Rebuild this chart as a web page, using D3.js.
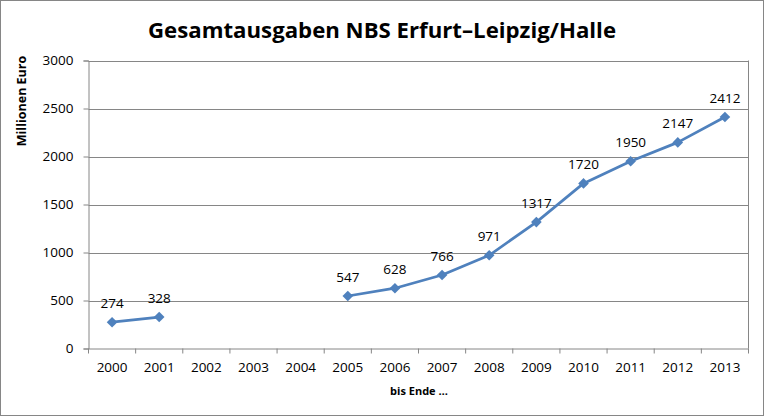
<!DOCTYPE html>
<html><head><meta charset="utf-8">
<script src="https://cdn.jsdelivr.net/npm/d3@7"></script>
<style>body{margin:0;background:#fff}svg{display:block}</style>
</head><body>
<svg id="c" width="765" height="417"></svg>
<script>
const years = ["2000","2001","2002","2003","2004","2005","2006","2007","2008","2009","2010","2011","2012","2013"];
const values = [274, 328, null, null, null, 547, 628, 766, 971, 1317, 1720, 1950, 2147, 2412];
const yTicks = [0, 500, 1000, 1500, 2000, 2500, 3000];
const title = "Gesamtausgaben NBS Erfurt\u2013Leipzig/Halle";
const yTitle = "Millionen Euro";
const xTitle = "bis Ende \u2026";

const svg = d3.select("#c");
const font = "'Open Sans', 'DejaVu Sans', sans-serif";
const m = {l: 88.5, r: 748.5, t: 60.5, b: 348.5};
const data = years.map((y, i) => ({year: y, v: values[i]}));

svg.append("rect").attr("x", 0.5).attr("y", 0.5).attr("width", 763).attr("height", 415)
  .attr("fill", "#fff").attr("stroke", "#868686").attr("stroke-width", 1);

const x = d3.scaleBand().domain(years).range([m.l, m.r]).padding(0);
const y = d3.scaleLinear().domain([0, 3000]).range([m.b, m.t]);

// gridlines
svg.append("g").selectAll("line").data(yTicks.filter(t => t > 0)).join("line")
  .attr("x1", m.l).attr("x2", m.r).attr("y1", d => Math.round(y(d)) + 0.5).attr("y2", d => Math.round(y(d)) + 0.5)
  .attr("stroke", "#868686");
// right border of plot
svg.append("line").attr("x1", m.r).attr("x2", m.r).attr("y1", m.t).attr("y2", m.b).attr("stroke", "#868686");

// y axis
const ya = svg.append("g").attr("transform", `translate(${m.l},0)`)
  .call(d3.axisLeft(y).tickValues(yTicks).tickSize(5).tickPadding(10).tickFormat(d3.format("d")));
ya.select(".domain").attr("stroke", "#868686");
ya.selectAll(".tick line").attr("stroke", "#868686");
ya.selectAll("text").attr("font-family", font).attr("font-size", 13.5).attr("fill", "#000");

// x axis
const xa = svg.append("g").attr("transform", `translate(0,${m.b})`)
  .call(d3.axisBottom(x).tickSize(0).tickPadding(14));
xa.select(".domain").attr("stroke", "#868686");
xa.selectAll("text").attr("font-family", font).attr("font-size", 13.5).attr("fill", "#000");
// category boundary ticks
const bounds = years.map(d => x(d)).concat([x(years[years.length-1]) + x.bandwidth()]);
svg.append("g").selectAll("line").data(bounds).join("line")
  .attr("x1", d => d).attr("x2", d => d).attr("y1", m.b).attr("y2", m.b + 5)
  .attr("stroke", "#868686");

// line
const line = d3.line().defined(d => d.v != null)
  .x(d => x(d.year) + x.bandwidth() / 2).y(d => y(d.v));
svg.append("path").datum(data).attr("d", line).attr("fill", "none")
  .attr("stroke", "#4F81BD").attr("stroke-width", 2.75).attr("stroke-linejoin", "round");

const pts = data.filter(d => d.v != null);
svg.append("g").selectAll("path").data(pts).join("path")
  .attr("d", d3.symbol().type(d3.symbolDiamond2).size(72))
  .attr("transform", d => `translate(${x(d.year) + x.bandwidth() / 2},${y(d.v)})`)
  .attr("fill", "#4F81BD");

svg.append("g").selectAll("text").data(pts).join("text")
  .attr("x", d => x(d.year) + x.bandwidth() / 2).attr("y", d => y(d.v) - 14)
  .attr("text-anchor", "middle").attr("font-family", font).attr("font-size", 13.5).attr("fill", "#000")
  .text(d => d.v);

// titles
svg.append("text").attr("x", 382).attr("y", 38).attr("text-anchor", "middle")
  .attr("font-family", "'Open Sans', sans-serif").attr("font-weight", "bold").attr("font-size", 22)
  .attr("textLength", 468).attr("lengthAdjust", "spacingAndGlyphs").text(title);
svg.append("text").attr("transform", "translate(26,101) rotate(-90)").attr("text-anchor", "middle")
  .attr("font-family", font).attr("font-weight", "bold").attr("font-size", 12.5).text(yTitle);
svg.append("text").attr("x", 419).attr("y", 395).attr("text-anchor", "middle")
  .attr("font-family", font).attr("font-weight", "bold").attr("font-size", 11).text(xTitle);
</script>
</body></html>
